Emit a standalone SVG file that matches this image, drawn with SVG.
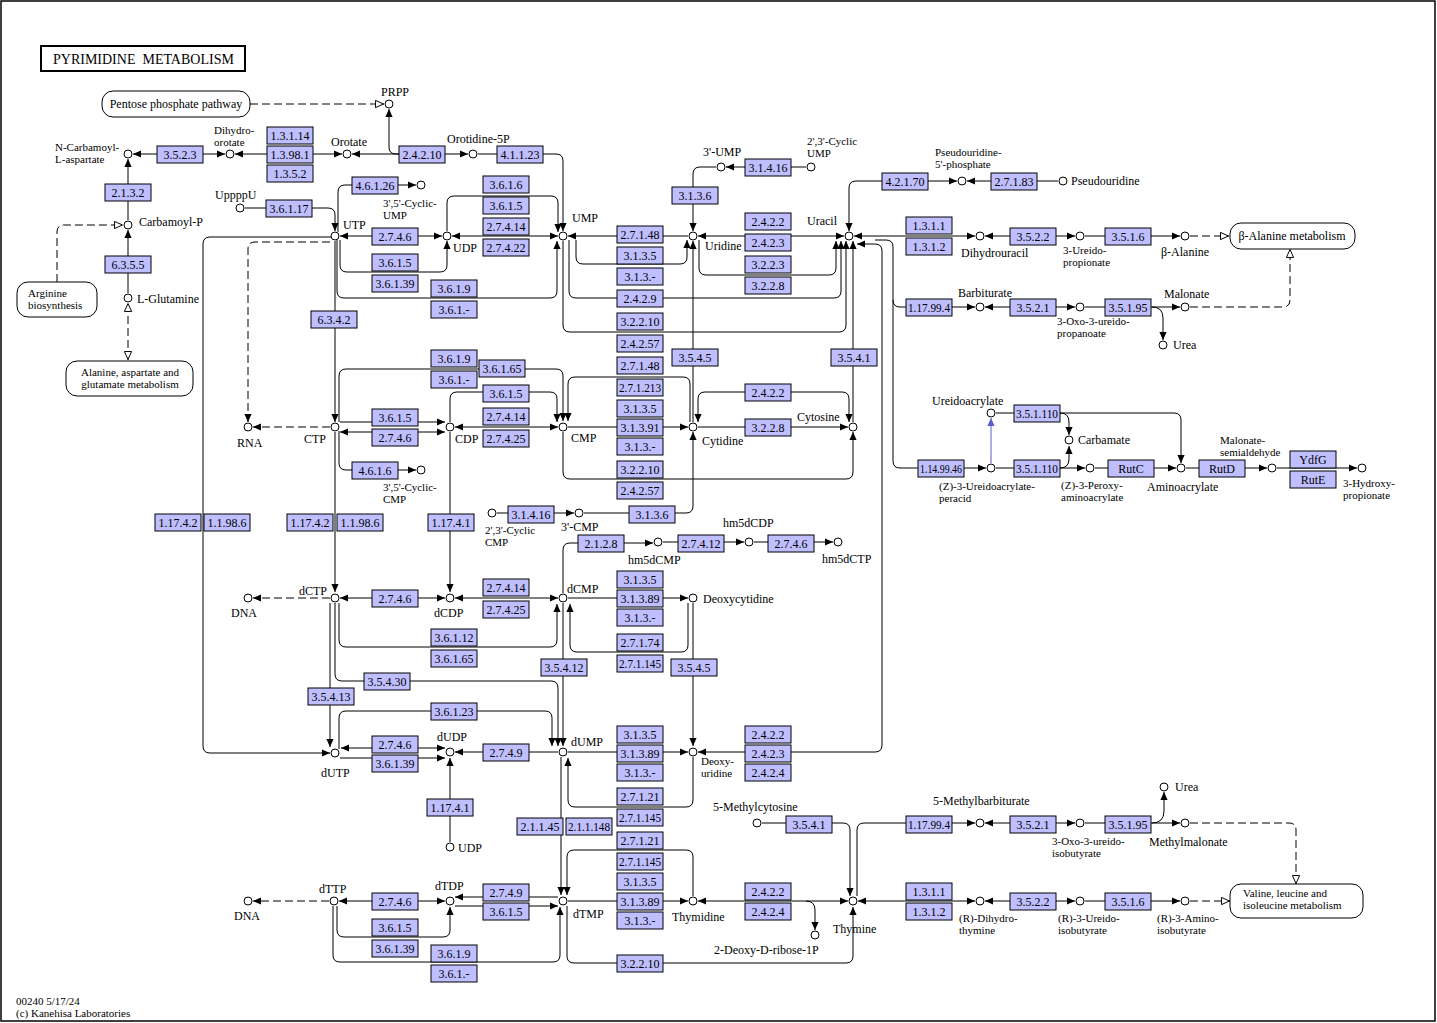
<svg xmlns="http://www.w3.org/2000/svg" width="1437" height="1023" viewBox="0 0 1437 1023">
<style>
.l{fill:none;stroke:#000;stroke-width:1}
.d{stroke-dasharray:8 4}
.ae{marker-end:url(#ah)}
.as{marker-start:url(#ah)}
.oe{marker-end:url(#oh)}
.os{marker-start:url(#oh)}
.b{stroke:#5a5ad2;marker-end:url(#bh)}
.e rect{fill:#bfbfff;stroke:#000;stroke-width:1}
.e text{font-family:"Liberation Serif",serif;font-size:12px;text-anchor:middle;fill:#000}
.c circle{fill:#fff;stroke:#000;stroke-width:1}
text{font-family:"Liberation Serif",serif;font-size:12px;fill:#000}
text.t2{font-size:11px}
text.ttl{font-size:14px}
.m rect{fill:#fff;stroke:#000;stroke-width:1}
.mc{text-anchor:middle}
</style>
<defs>
<marker id="ah" viewBox="0 0 10 10" refX="10" refY="5" markerWidth="8" markerHeight="8" markerUnits="userSpaceOnUse" orient="auto-start-reverse"><path d="M0,0.5L10,5L0,9.5z" fill="#000"/></marker>
<marker id="bh" viewBox="0 0 10 10" refX="10" refY="5" markerWidth="8" markerHeight="8" markerUnits="userSpaceOnUse" orient="auto-start-reverse"><path d="M0,0.5L10,5L0,9.5z" fill="#5a5ad2"/></marker>
<marker id="oh" viewBox="0 0 10 10" refX="10" refY="5" markerWidth="9" markerHeight="9" markerUnits="userSpaceOnUse" orient="auto-start-reverse"><path d="M0.6,1L9.4,5L0.6,9z" fill="#fff" stroke="#000" stroke-width="1.1"/></marker>
</defs>
<rect x="0" y="0" width="1437" height="1023" fill="#fff"/>
<rect x="1" y="1" width="1434" height="1020" fill="none" stroke="#000" stroke-width="1.5"/>
<g id="title"><rect x="41" y="46" width="204" height="25" fill="#fff" stroke="#000" stroke-width="2"/><text class="ttl" x="53" y="63.5" xml:space="preserve">PYRIMIDINE  METABOLISM</text></g>

<g id="connectors">
<path class="l ae" d="M128,220L128,159"/>
<path class="l ae" d="M128,293L128,230"/>
<path class="l d oe os" d="M128,360L128,303"/>
<path class="l d oe" d="M57,282L57,232Q57,225 64,225L123,225"/>
<path class="l d oe" d="M250,104L384,104"/>
<path class="l ae as" d="M225,154L133,154"/>
<path class="l ae as" d="M342,154L235,154"/>
<path class="l ae as" d="M352,154L468,154"/>
<path class="l ae" d="M399,154L396,154Q389,154 389,147L389,109"/>
<path class="l ae" d="M478,154L556,154Q563,154 563,161L563,231"/>
<path class="l ae" d="M447,231L447,203Q447,196 454,196L551,196Q558,196 558,203L558,232"/>
<path class="l ae as" d="M452,236L558,236"/>
<path class="l ae as" d="M340,236L442,236"/>
<path class="l ae" d="M340,240L340,265Q340,272 347,272L440,272Q447,272 447,265L447,241"/>
<path class="l ae" d="M337,240L337,291Q337,298 344,298L550,298Q557,298 557,291L557,241"/>
<path class="l ae" d="M245,208L328,208Q335,208 335,215L335,231"/>
<path class="l ae" d="M338,232L338,192Q338,185 345,185L416,185"/>
<path class="l d ae" d="M330,242L255,242Q248,242 248,249L248,422"/>
<path class="l ae" d="M335,241L335,422"/>
<path class="l ae" d="M331,237L210,237Q203,237 203,244L203,746Q203,753 210,753L330,753"/>
<path class="l ae" d="M688,236L568,236"/>
<path class="l ae" d="M576,240L576,257Q576,264 583,264L680,264Q687,264 687,257L687,240"/>
<path class="l ae" d="M569,240L569,291Q569,298 576,298L834,298Q841,298 841,291L841,241"/>
<path class="l ae" d="M563,241L563,325Q563,332 570,332L839,332Q846,332 846,325L846,241"/>
<path class="l ae as" d="M698,236L844,236"/>
<path class="l ae" d="M699,240L699,268Q699,275 706,275L829,275Q836,275 836,268L836,241"/>
<path class="l ae" d="M806,167L726,167"/>
<path class="l ae" d="M716,167L700,167Q693,167 693,174L693,231"/>
<path class="l ae as" d="M957,181L856,181Q849,181 849,188L849,231"/>
<path class="l ae" d="M1058,181L967,181"/>
<path class="l ae as" d="M854,236L975,236"/>
<path class="l ae as" d="M1075,236L985,236"/>
<path class="l ae" d="M1085,236L1180,236"/>
<path class="l d oe" d="M1190,236L1229,236"/>
<path class="l ae as" d="M698,752L875,752Q882,752 882,745L882,251Q882,244 875,244L857,244"/>
<path class="l ae" d="M875,240L886,240Q893,240 893,247L893,461Q893,468 900,468L986,468"/>
<path class="l ae" d="M893,300Q893,307 900,307L975,307"/>
<path class="l ae as" d="M1075,307L985,307"/>
<path class="l ae" d="M1085,307L1180,307"/>
<path class="l ae" d="M1152,307Q1163,307 1163,318L1163,340"/>
<path class="l d oe" d="M1190,307L1283,307Q1290,307 1290,300L1290,249"/>
<path class="l ae" d="M693,422L693,241"/>
<path class="l ae as" d="M698,422L698,399Q698,392 705,392L842,392Q849,392 849,399L849,422"/>
<path class="l ae" d="M698,427L848,427"/>
<path class="l ae" d="M853,422L853,241"/>
<path class="l ae" d="M563,432L563,472Q563,479 570,479L846,479Q853,479 853,472L853,432"/>
<path class="l ae" d="M584,513L686,513Q693,513 693,506L693,432"/>
<path class="l ae" d="M497,513L574,513"/>
<path class="l ae" d="M568,427L688,427"/>
<path class="l ae" d="M690,422L690,384Q690,377 683,377L575,377Q568,377 568,384L568,421"/>
<path class="l ae" d="M339,422L339,376Q339,369 346,369L556,369Q563,369 563,376L563,421"/>
<path class="l ae" d="M450,422L450,399Q450,392 457,392L550,392Q557,392 557,399L557,422"/>
<path class="l ae as" d="M455,427L558,427"/>
<path class="l ae" d="M340,422L445,422"/>
<path class="l ae as" d="M340,432L445,432"/>
<path class="l d ae" d="M330,427L253,427"/>
<path class="l ae" d="M339,431L339,463Q339,470 346,470L416,470"/>
<path class="l ae" d="M335,432L335,592"/>
<path class="l ae" d="M450,432L450,592"/>
<path class="l ae as" d="M340,598L445,598"/>
<path class="l d ae" d="M330,598L253,598"/>
<path class="l ae as" d="M455,598L558,598"/>
<path class="l ae" d="M339,603L339,640Q339,647 346,647L550,647Q557,647 557,640L557,604"/>
<path class="l ae" d="M335,603L335,674Q335,681 342,681L551,681Q558,681 558,688L558,746"/>
<path class="l ae" d="M330,603L330,747"/>
<path class="l ae" d="M563,603L563,746"/>
<path class="l ae" d="M568,598L688,598"/>
<path class="l ae" d="M688,603L688,645Q688,652 681,652L577,652Q570,652 570,645L570,604"/>
<path class="l ae" d="M693,603L693,746"/>
<path class="l ae" d="M563,593L563,550Q563,543 570,543L653,543"/>
<path class="l ae" d="M663,542L744,542"/>
<path class="l ae" d="M754,542L833,542"/>
<path class="l ae as" d="M341,748L445,748"/>
<path class="l ae" d="M340,758L445,758"/>
<path class="l ae" d="M339,749L339,718Q339,711 346,711L545,711Q552,711 552,718L552,746"/>
<path class="l ae" d="M558,752L455,752"/>
<path class="l ae" d="M450,842L450,758"/>
<path class="l ae" d="M568,752L688,752"/>
<path class="l ae" d="M693,757L693,800Q693,807 686,807L575,807Q568,807 568,800L568,758"/>
<path class="l ae" d="M561,757L561,895"/>
<path class="l ae" d="M693,896L693,857Q693,850 686,850L574,850Q567,850 567,857L567,895"/>
<path class="l ae" d="M568,901L688,901"/>
<path class="l ae" d="M567,906L567,956Q567,963 574,963L846,963Q853,963 853,956L853,907"/>
<path class="l ae as" d="M339,901L445,901"/>
<path class="l d ae" d="M329,901L253,901"/>
<path class="l ae" d="M558,897L455,897"/>
<path class="l ae" d="M455,906L558,906"/>
<path class="l ae" d="M337,906L337,930Q337,937 344,937L443,937Q450,937 450,930L450,907"/>
<path class="l ae" d="M333,906L333,955Q333,962 340,962L553,962Q560,962 560,955L560,907"/>
<path class="l ae as" d="M698,901L848,901"/>
<path class="l ae" d="M806,901Q815,901 815,910L815,930"/>
<path class="l ae" d="M762,823L843,823Q850,823 850,830L850,896"/>
<path class="l ae" d="M857,896L857,830Q857,823 864,823L975,823"/>
<path class="l ae as" d="M1075,823L985,823"/>
<path class="l ae" d="M1085,823L1180,823"/>
<path class="l ae" d="M1152,823Q1164,823 1164,811L1164,792"/>
<path class="l d oe" d="M1190,823L1289,823Q1296,823 1296,830L1296,884"/>
<path class="l ae as" d="M858,901L975,901"/>
<path class="l ae as" d="M1075,901L985,901"/>
<path class="l ae" d="M1085,901L1180,901"/>
<path class="l d oe" d="M1190,901L1230,901"/>
<path class="l b" d="M991,463L991,418"/>
<path class="l ae" d="M996,468L1085,468"/>
<path class="l ae" d="M1060,468Q1069,468 1069,459L1069,446"/>
<path class="l ae" d="M996,413L1174,413Q1181,413 1181,420L1181,463"/>
<path class="l ae" d="M1060,413Q1069,413 1069,422L1069,435"/>
<path class="l ae" d="M1095,468L1176,468"/>
<path class="l ae" d="M1186,468L1267,468"/>
<path class="l ae" d="M1277,468L1357,468"/>
</g>

<g id="maps" class="m">
<g id="m-ppp"><rect x="102" y="91" width="148" height="26" rx="11"/><text class="mc" x="176" y="108">Pentose phosphate pathway</text></g>
<g id="m-arg"><rect x="17" y="282" width="80" height="35" rx="11"/><text class="t2" x="28" y="297">Arginine<tspan x="28" dy="12.2">biosynthesis</tspan></text></g>
<g id="m-ala"><rect x="66" y="361" width="127" height="35" rx="11"/><text class="mc t2" x="130" y="376">Alanine, aspartate and<tspan x="130" dy="12.2">glutamate metabolism</tspan></text></g>
<g id="m-bala"><rect x="1230" y="223" width="125" height="26" rx="11"/><text class="mc" x="1292" y="240">β-Alanine metabolism</text></g>
<g id="m-val"><rect x="1230" y="884" width="133" height="34" rx="11"/><text class="t2" x="1243" y="897">Valine, leucine and<tspan x="1243" dy="12.2">isoleucine metabolism</tspan></text></g>
</g>

<g id="enzymes" class="e">
<g id="e001"><rect x="157" y="146" width="46" height="17"/><text x="180" y="159">3.5.2.3</text></g>
<g id="e002"><rect x="267" y="127" width="46" height="17"/><text x="290" y="140">1.3.1.14</text></g>
<g id="e003"><rect x="267" y="146" width="46" height="17"/><text x="290" y="159">1.3.98.1</text></g>
<g id="e004"><rect x="267" y="165" width="46" height="17"/><text x="290" y="178">1.3.5.2</text></g>
<g id="e005"><rect x="399" y="146" width="46" height="17"/><text x="422" y="159">2.4.2.10</text></g>
<g id="e006"><rect x="497" y="146" width="46" height="17"/><text x="520" y="159">4.1.1.23</text></g>
<g id="e007"><rect x="105" y="184" width="46" height="17"/><text x="128" y="197">2.1.3.2</text></g>
<g id="e008"><rect x="105" y="256" width="46" height="17"/><text x="128" y="269">6.3.5.5</text></g>
<g id="e009"><rect x="352" y="177" width="46" height="17"/><text x="375" y="190">4.6.1.26</text></g>
<g id="e010"><rect x="266" y="200" width="46" height="17"/><text x="289" y="213">3.6.1.17</text></g>
<g id="e011"><rect x="372" y="228" width="46" height="17"/><text x="395" y="241">2.7.4.6</text></g>
<g id="e012"><rect x="372" y="254" width="46" height="17"/><text x="395" y="267">3.6.1.5</text></g>
<g id="e013"><rect x="372" y="275" width="46" height="17"/><text x="395" y="288">3.6.1.39</text></g>
<g id="e014"><rect x="431" y="280" width="46" height="17"/><text x="454" y="293">3.6.1.9</text></g>
<g id="e015"><rect x="431" y="301" width="46" height="17"/><text x="454" y="314">3.6.1.-</text></g>
<g id="e016"><rect x="311" y="311" width="46" height="17"/><text x="334" y="324">6.3.4.2</text></g>
<g id="e017"><rect x="483" y="176" width="46" height="17"/><text x="506" y="189">3.6.1.6</text></g>
<g id="e018"><rect x="483" y="197" width="46" height="17"/><text x="506" y="210">3.6.1.5</text></g>
<g id="e019"><rect x="483" y="218" width="46" height="17"/><text x="506" y="231">2.7.4.14</text></g>
<g id="e020"><rect x="483" y="239" width="46" height="17"/><text x="506" y="252">2.7.4.22</text></g>
<g id="e021"><rect x="617" y="226" width="46" height="17"/><text x="640" y="239">2.7.1.48</text></g>
<g id="e022"><rect x="617" y="247" width="46" height="17"/><text x="640" y="260">3.1.3.5</text></g>
<g id="e023"><rect x="617" y="268" width="46" height="17"/><text x="640" y="281">3.1.3.-</text></g>
<g id="e024"><rect x="617" y="290" width="46" height="17"/><text x="640" y="303">2.4.2.9</text></g>
<g id="e025"><rect x="617" y="313" width="46" height="17"/><text x="640" y="326">3.2.2.10</text></g>
<g id="e026"><rect x="617" y="335" width="46" height="17"/><text x="640" y="348">2.4.2.57</text></g>
<g id="e027"><rect x="617" y="357" width="46" height="17"/><text x="640" y="370">2.7.1.48</text></g>
<g id="e028"><rect x="617" y="379" width="46" height="17"/><text x="640" y="392" textLength="42" lengthAdjust="spacingAndGlyphs">2.7.1.213</text></g>
<g id="e029"><rect x="617" y="400" width="46" height="17"/><text x="640" y="413">3.1.3.5</text></g>
<g id="e030"><rect x="617" y="419" width="46" height="17"/><text x="640" y="432">3.1.3.91</text></g>
<g id="e031"><rect x="617" y="438" width="46" height="17"/><text x="640" y="451">3.1.3.-</text></g>
<g id="e032"><rect x="617" y="461" width="46" height="17"/><text x="640" y="474">3.2.2.10</text></g>
<g id="e033"><rect x="617" y="482" width="46" height="17"/><text x="640" y="495">2.4.2.57</text></g>
<g id="e034"><rect x="672" y="187" width="46" height="17"/><text x="695" y="200">3.1.3.6</text></g>
<g id="e035"><rect x="745" y="159" width="46" height="17"/><text x="768" y="172">3.1.4.16</text></g>
<g id="e036"><rect x="745" y="213" width="46" height="17"/><text x="768" y="226">2.4.2.2</text></g>
<g id="e037"><rect x="745" y="234" width="46" height="17"/><text x="768" y="247">2.4.2.3</text></g>
<g id="e038"><rect x="745" y="256" width="46" height="17"/><text x="768" y="269">3.2.2.3</text></g>
<g id="e039"><rect x="745" y="277" width="46" height="17"/><text x="768" y="290">3.2.2.8</text></g>
<g id="e040"><rect x="882" y="173" width="46" height="17"/><text x="905" y="186">4.2.1.70</text></g>
<g id="e041"><rect x="991" y="173" width="46" height="17"/><text x="1014" y="186">2.7.1.83</text></g>
<g id="e042"><rect x="906" y="217" width="46" height="17"/><text x="929" y="230">1.3.1.1</text></g>
<g id="e043"><rect x="906" y="238" width="46" height="17"/><text x="929" y="251">1.3.1.2</text></g>
<g id="e044"><rect x="1010" y="228" width="46" height="17"/><text x="1033" y="241">3.5.2.2</text></g>
<g id="e045"><rect x="1105" y="228" width="46" height="17"/><text x="1128" y="241">3.5.1.6</text></g>
<g id="e046"><rect x="906" y="299" width="46" height="17"/><text x="929" y="312" textLength="42" lengthAdjust="spacingAndGlyphs">1.17.99.4</text></g>
<g id="e047"><rect x="1010" y="299" width="46" height="17"/><text x="1033" y="312">3.5.2.1</text></g>
<g id="e048"><rect x="1105" y="299" width="46" height="17"/><text x="1128" y="312">3.5.1.95</text></g>
<g id="e049"><rect x="672" y="349" width="46" height="17"/><text x="695" y="362">3.5.4.5</text></g>
<g id="e050"><rect x="831" y="349" width="46" height="17"/><text x="854" y="362">3.5.4.1</text></g>
<g id="e051"><rect x="745" y="384" width="46" height="17"/><text x="768" y="397">2.4.2.2</text></g>
<g id="e052"><rect x="745" y="419" width="46" height="17"/><text x="768" y="432">3.2.2.8</text></g>
<g id="e053"><rect x="1014" y="405" width="46" height="17"/><text x="1037" y="418" textLength="42" lengthAdjust="spacingAndGlyphs">3.5.1.110</text></g>
<g id="e054"><rect x="918" y="460" width="46" height="17"/><text x="941" y="473" textLength="42" lengthAdjust="spacingAndGlyphs">1.14.99.46</text></g>
<g id="e055"><rect x="1014" y="460" width="46" height="17"/><text x="1037" y="473" textLength="42" lengthAdjust="spacingAndGlyphs">3.5.1.110</text></g>
<g id="e056"><rect x="1108" y="460" width="46" height="17"/><text x="1131" y="473">RutC</text></g>
<g id="e057"><rect x="1199" y="460" width="46" height="17"/><text x="1222" y="473">RutD</text></g>
<g id="e058"><rect x="1290" y="451" width="46" height="17"/><text x="1313" y="464">YdfG</text></g>
<g id="e059"><rect x="1290" y="471" width="46" height="17"/><text x="1313" y="484">RutE</text></g>
<g id="e060"><rect x="431" y="350" width="46" height="17"/><text x="454" y="363">3.6.1.9</text></g>
<g id="e061"><rect x="431" y="371" width="46" height="17"/><text x="454" y="384">3.6.1.-</text></g>
<g id="e062"><rect x="479" y="360" width="46" height="17"/><text x="502" y="373">3.6.1.65</text></g>
<g id="e063"><rect x="483" y="385" width="46" height="17"/><text x="506" y="398">3.6.1.5</text></g>
<g id="e064"><rect x="372" y="409" width="46" height="17"/><text x="395" y="422">3.6.1.5</text></g>
<g id="e065"><rect x="372" y="429" width="46" height="17"/><text x="395" y="442">2.7.4.6</text></g>
<g id="e066"><rect x="483" y="408" width="46" height="17"/><text x="506" y="421">2.7.4.14</text></g>
<g id="e067"><rect x="483" y="430" width="46" height="17"/><text x="506" y="443">2.7.4.25</text></g>
<g id="e068"><rect x="352" y="462" width="46" height="17"/><text x="375" y="475">4.6.1.6</text></g>
<g id="e069"><rect x="508" y="506" width="46" height="17"/><text x="531" y="519">3.1.4.16</text></g>
<g id="e070"><rect x="629" y="506" width="46" height="17"/><text x="652" y="519">3.1.3.6</text></g>
<g id="e071"><rect x="578" y="535" width="46" height="17"/><text x="601" y="548">2.1.2.8</text></g>
<g id="e072"><rect x="678" y="535" width="46" height="17"/><text x="701" y="548">2.7.4.12</text></g>
<g id="e073"><rect x="768" y="535" width="46" height="17"/><text x="791" y="548">2.7.4.6</text></g>
<g id="e074"><rect x="155" y="514" width="46" height="17"/><text x="178" y="527">1.17.4.2</text></g>
<g id="e075"><rect x="204" y="514" width="46" height="17"/><text x="227" y="527">1.1.98.6</text></g>
<g id="e076"><rect x="287" y="514" width="46" height="17"/><text x="310" y="527">1.17.4.2</text></g>
<g id="e077"><rect x="337" y="514" width="46" height="17"/><text x="360" y="527">1.1.98.6</text></g>
<g id="e078"><rect x="428" y="514" width="46" height="17"/><text x="451" y="527">1.17.4.1</text></g>
<g id="e079"><rect x="372" y="590" width="46" height="17"/><text x="395" y="603">2.7.4.6</text></g>
<g id="e080"><rect x="483" y="579" width="46" height="17"/><text x="506" y="592">2.7.4.14</text></g>
<g id="e081"><rect x="483" y="601" width="46" height="17"/><text x="506" y="614">2.7.4.25</text></g>
<g id="e082"><rect x="617" y="571" width="46" height="17"/><text x="640" y="584">3.1.3.5</text></g>
<g id="e083"><rect x="617" y="590" width="46" height="17"/><text x="640" y="603">3.1.3.89</text></g>
<g id="e084"><rect x="617" y="609" width="46" height="17"/><text x="640" y="622">3.1.3.-</text></g>
<g id="e085"><rect x="431" y="629" width="46" height="17"/><text x="454" y="642">3.6.1.12</text></g>
<g id="e086"><rect x="431" y="650" width="46" height="17"/><text x="454" y="663">3.6.1.65</text></g>
<g id="e087"><rect x="617" y="634" width="46" height="17"/><text x="640" y="647">2.7.1.74</text></g>
<g id="e088"><rect x="617" y="655" width="46" height="17"/><text x="640" y="668" textLength="42" lengthAdjust="spacingAndGlyphs">2.7.1.145</text></g>
<g id="e089"><rect x="541" y="659" width="46" height="17"/><text x="564" y="672">3.5.4.12</text></g>
<g id="e090"><rect x="671" y="659" width="46" height="17"/><text x="694" y="672">3.5.4.5</text></g>
<g id="e091"><rect x="364" y="673" width="46" height="17"/><text x="387" y="686">3.5.4.30</text></g>
<g id="e092"><rect x="308" y="688" width="46" height="17"/><text x="331" y="701">3.5.4.13</text></g>
<g id="e093"><rect x="431" y="703" width="46" height="17"/><text x="454" y="716">3.6.1.23</text></g>
<g id="e094"><rect x="372" y="736" width="46" height="17"/><text x="395" y="749">2.7.4.6</text></g>
<g id="e095"><rect x="372" y="755" width="46" height="17"/><text x="395" y="768">3.6.1.39</text></g>
<g id="e096"><rect x="483" y="744" width="46" height="17"/><text x="506" y="757">2.7.4.9</text></g>
<g id="e097"><rect x="617" y="726" width="46" height="17"/><text x="640" y="739">3.1.3.5</text></g>
<g id="e098"><rect x="617" y="745" width="46" height="17"/><text x="640" y="758">3.1.3.89</text></g>
<g id="e099"><rect x="617" y="764" width="46" height="17"/><text x="640" y="777">3.1.3.-</text></g>
<g id="e100"><rect x="745" y="726" width="46" height="17"/><text x="768" y="739">2.4.2.2</text></g>
<g id="e101"><rect x="745" y="745" width="46" height="17"/><text x="768" y="758">2.4.2.3</text></g>
<g id="e102"><rect x="745" y="764" width="46" height="17"/><text x="768" y="777">2.4.2.4</text></g>
<g id="e103"><rect x="617" y="788" width="46" height="17"/><text x="640" y="801">2.7.1.21</text></g>
<g id="e104"><rect x="617" y="809" width="46" height="17"/><text x="640" y="822" textLength="42" lengthAdjust="spacingAndGlyphs">2.7.1.145</text></g>
<g id="e105"><rect x="427" y="799" width="46" height="17"/><text x="450" y="812">1.17.4.1</text></g>
<g id="e106"><rect x="517" y="818" width="46" height="17"/><text x="540" y="831">2.1.1.45</text></g>
<g id="e107"><rect x="566" y="818" width="46" height="17"/><text x="589" y="831" textLength="42" lengthAdjust="spacingAndGlyphs">2.1.1.148</text></g>
<g id="e108"><rect x="617" y="832" width="46" height="17"/><text x="640" y="845">2.7.1.21</text></g>
<g id="e109"><rect x="617" y="853" width="46" height="17"/><text x="640" y="866" textLength="42" lengthAdjust="spacingAndGlyphs">2.7.1.145</text></g>
<g id="e110"><rect x="617" y="873" width="46" height="17"/><text x="640" y="886">3.1.3.5</text></g>
<g id="e111"><rect x="617" y="893" width="46" height="17"/><text x="640" y="906">3.1.3.89</text></g>
<g id="e112"><rect x="617" y="912" width="46" height="17"/><text x="640" y="925">3.1.3.-</text></g>
<g id="e113"><rect x="786" y="816" width="46" height="17"/><text x="809" y="829">3.5.4.1</text></g>
<g id="e114"><rect x="906" y="816" width="46" height="17"/><text x="929" y="829" textLength="42" lengthAdjust="spacingAndGlyphs">1.17.99.4</text></g>
<g id="e115"><rect x="1010" y="816" width="46" height="17"/><text x="1033" y="829">3.5.2.1</text></g>
<g id="e116"><rect x="1105" y="816" width="46" height="17"/><text x="1128" y="829">3.5.1.95</text></g>
<g id="e117"><rect x="745" y="883" width="46" height="17"/><text x="768" y="896">2.4.2.2</text></g>
<g id="e118"><rect x="745" y="903" width="46" height="17"/><text x="768" y="916">2.4.2.4</text></g>
<g id="e119"><rect x="906" y="883" width="46" height="17"/><text x="929" y="896">1.3.1.1</text></g>
<g id="e120"><rect x="906" y="903" width="46" height="17"/><text x="929" y="916">1.3.1.2</text></g>
<g id="e121"><rect x="1010" y="893" width="46" height="17"/><text x="1033" y="906">3.5.2.2</text></g>
<g id="e122"><rect x="1105" y="893" width="46" height="17"/><text x="1128" y="906">3.5.1.6</text></g>
<g id="e123"><rect x="372" y="893" width="46" height="17"/><text x="395" y="906">2.7.4.6</text></g>
<g id="e124"><rect x="483" y="884" width="46" height="17"/><text x="506" y="897">2.7.4.9</text></g>
<g id="e125"><rect x="483" y="903" width="46" height="17"/><text x="506" y="916">3.6.1.5</text></g>
<g id="e126"><rect x="372" y="919" width="46" height="17"/><text x="395" y="932">3.6.1.5</text></g>
<g id="e127"><rect x="372" y="940" width="46" height="17"/><text x="395" y="953">3.6.1.39</text></g>
<g id="e128"><rect x="431" y="945" width="46" height="17"/><text x="454" y="958">3.6.1.9</text></g>
<g id="e129"><rect x="431" y="965" width="46" height="17"/><text x="454" y="978">3.6.1.-</text></g>
<g id="e130"><rect x="617" y="955" width="46" height="17"/><text x="640" y="968">3.2.2.10</text></g>
</g>

<g id="compounds" class="c">
<g id="c-prpp"><circle cx="389" cy="104" r="4"/><text x="381" y="96">PRPP</text></g>
<g id="c-nca"><circle cx="128" cy="154" r="4"/><text class="t2" x="55" y="151">N-Carbamoyl-<tspan x="55" dy="12.2">L-aspartate</tspan></text></g>
<g id="c-dho"><circle cx="230" cy="154" r="4"/><text class="t2" x="214" y="134">Dihydro-<tspan x="214" dy="12.2">orotate</tspan></text></g>
<g id="c-oro"><circle cx="347" cy="154" r="4"/><text x="331" y="146">Orotate</text></g>
<g id="c-omp"><circle cx="473" cy="154" r="4"/><text x="447" y="143">Orotidine-5P</text></g>
<g id="c-up4u"><circle cx="240" cy="208" r="4"/><text x="215" y="199">UppppU</text></g>
<g id="c-cp"><circle cx="128" cy="225" r="4"/><text x="139" y="226">Carbamoyl-P</text></g>
<g id="c-gln"><circle cx="128" cy="298" r="4"/><text x="137" y="303">L-Glutamine</text></g>
<g id="c-utp"><circle cx="335" cy="236" r="4"/><text x="343" y="229">UTP</text></g>
<g id="c-udp"><circle cx="447" cy="236" r="4"/><text x="453" y="252">UDP</text></g>
<g id="c-cump"><circle cx="421" cy="185" r="4"/><text class="t2" x="383" y="207">3',5'-Cyclic-<tspan x="383" dy="12.2">UMP</tspan></text></g>
<g id="c-ump"><circle cx="563" cy="236" r="4"/><text x="572" y="222">UMP</text></g>
<g id="c-urd"><circle cx="693" cy="236" r="4"/><text x="705" y="250">Uridine</text></g>
<g id="c-3ump"><circle cx="721" cy="167" r="4"/><text x="703" y="156">3'-UMP</text></g>
<g id="c-23cump"><circle cx="811" cy="167" r="4"/><text class="t2" x="807" y="145">2',3'-Cyclic<tspan x="807" dy="12.2">UMP</tspan></text></g>
<g id="c-ura"><circle cx="849" cy="236" r="4"/><text x="807" y="225">Uracil</text></g>
<g id="c-psi5p"><circle cx="962" cy="181" r="4"/><text class="t2" x="935" y="156">Pseudouridine-<tspan x="935" dy="12.2">5'-phosphate</tspan></text></g>
<g id="c-psi"><circle cx="1063" cy="181" r="4"/><text x="1071" y="185">Pseudouridine</text></g>
<g id="c-dhu"><circle cx="980" cy="236" r="4"/><text x="961" y="257">Dihydrouracil</text></g>
<g id="c-3up"><circle cx="1080" cy="236" r="4"/><text class="t2" x="1063" y="254">3-Ureido-<tspan x="1063" dy="12.2">propionate</tspan></text></g>
<g id="c-bala"><circle cx="1185" cy="236" r="4"/><text x="1161" y="256">β-Alanine</text></g>
<g id="c-barb"><circle cx="980" cy="307" r="4"/><text x="958" y="297">Barbiturate</text></g>
<g id="c-3oup"><circle cx="1080" cy="307" r="4"/><text class="t2" x="1057" y="325">3-Oxo-3-ureido-<tspan x="1057" dy="12.2">propanoate</tspan></text></g>
<g id="c-mal"><circle cx="1185" cy="307" r="4"/><text x="1164" y="298">Malonate</text></g>
<g id="c-urea1"><circle cx="1163" cy="345" r="4"/><text x="1173" y="349">Urea</text></g>
<g id="c-rna"><circle cx="248" cy="427" r="4"/><text x="237" y="447">RNA</text></g>
<g id="c-ctp"><circle cx="335" cy="427" r="4"/><text x="304" y="443">CTP</text></g>
<g id="c-cdp"><circle cx="450" cy="427" r="4"/><text x="455" y="443">CDP</text></g>
<g id="c-cmp"><circle cx="563" cy="427" r="4"/><text x="571" y="442">CMP</text></g>
<g id="c-cyd"><circle cx="693" cy="427" r="4"/><text x="702" y="445">Cytidine</text></g>
<g id="c-cyt"><circle cx="853" cy="427" r="4"/><text x="797" y="421">Cytosine</text></g>
<g id="c-ccmp"><circle cx="421" cy="470" r="4"/><text class="t2" x="383" y="491">3',5'-Cyclic-<tspan x="383" dy="12.2">CMP</tspan></text></g>
<g id="c-23ccmp"><circle cx="492" cy="513" r="4"/><text class="t2" x="485" y="534">2',3'-Cyclic<tspan x="485" dy="12.2">CMP</tspan></text></g>
<g id="c-3cmp"><circle cx="579" cy="513" r="4"/><text x="561" y="531">3'-CMP</text></g>
<g id="c-hm5dcmp"><circle cx="658" cy="542" r="4"/><text x="628" y="564">hm5dCMP</text></g>
<g id="c-hm5dcdp"><circle cx="749" cy="542" r="4"/><text x="723" y="527">hm5dCDP</text></g>
<g id="c-hm5dctp"><circle cx="838" cy="542" r="4"/><text x="822" y="563">hm5dCTP</text></g>
<g id="c-ua"><circle cx="991" cy="413" r="4"/><text x="932" y="405">Ureidoacrylate</text></g>
<g id="c-carb"><circle cx="1069" cy="440" r="4"/><text x="1078" y="444">Carbamate</text></g>
<g id="c-zuap"><circle cx="991" cy="468" r="4"/><text class="t2" x="939" y="490">(Z)-3-Ureidoacrylate-<tspan x="939" dy="12.2">peracid</tspan></text></g>
<g id="c-zpa"><circle cx="1090" cy="468" r="4"/><text class="t2" x="1061" y="489">(Z)-3-Peroxy-<tspan x="1061" dy="12.2">aminoacrylate</tspan></text></g>
<g id="c-aa"><circle cx="1181" cy="468" r="4"/><text x="1147" y="491">Aminoacrylate</text></g>
<g id="c-msa"><circle cx="1272" cy="468" r="4"/><text class="t2" x="1220" y="444">Malonate-<tspan x="1220" dy="12.2">semialdehyde</tspan></text></g>
<g id="c-3hp"><circle cx="1362" cy="468" r="4"/><text class="t2" x="1343" y="487">3-Hydroxy-<tspan x="1343" dy="12.2">propionate</tspan></text></g>
<g id="c-dctp"><circle cx="335" cy="598" r="4"/><text x="299" y="595">dCTP</text></g>
<g id="c-dna1"><circle cx="248" cy="598" r="4"/><text x="231" y="617">DNA</text></g>
<g id="c-dcdp"><circle cx="450" cy="598" r="4"/><text x="434" y="617">dCDP</text></g>
<g id="c-dcmp"><circle cx="563" cy="598" r="4"/><text x="567" y="593">dCMP</text></g>
<g id="c-dcyd"><circle cx="693" cy="598" r="4"/><text x="703" y="603">Deoxycytidine</text></g>
<g id="c-dutp"><circle cx="335" cy="753" r="4"/><text x="321" y="777">dUTP</text></g>
<g id="c-dudp"><circle cx="450" cy="752" r="4"/><text x="437" y="741">dUDP</text></g>
<g id="c-dump"><circle cx="563" cy="752" r="4"/><text x="571" y="746">dUMP</text></g>
<g id="c-durd"><circle cx="693" cy="752" r="4"/><text class="t2" x="701" y="765">Deoxy-<tspan x="701" dy="12.2">uridine</tspan></text></g>
<g id="c-udp2"><circle cx="450" cy="847" r="4"/><text x="458" y="852">UDP</text></g>
<g id="c-5mc"><circle cx="757" cy="823" r="4"/><text x="713" y="811">5-Methylcytosine</text></g>
<g id="c-dttp"><circle cx="334" cy="901" r="4"/><text x="319" y="893">dTTP</text></g>
<g id="c-dna2"><circle cx="248" cy="901" r="4"/><text x="234" y="920">DNA</text></g>
<g id="c-dtdp"><circle cx="450" cy="901" r="4"/><text x="435" y="890">dTDP</text></g>
<g id="c-dtmp"><circle cx="563" cy="901" r="4"/><text x="573" y="918">dTMP</text></g>
<g id="c-thd"><circle cx="693" cy="901" r="4"/><text x="672" y="921">Thymidine</text></g>
<g id="c-dr1p"><circle cx="815" cy="935" r="4"/><text x="714" y="954">2-Deoxy-D-ribose-1P</text></g>
<g id="c-thy"><circle cx="853" cy="901" r="4"/><text x="833" y="933">Thymine</text></g>
<g id="c-5mb"><circle cx="980" cy="823" r="4"/><text x="933" y="805">5-Methylbarbiturate</text></g>
<g id="c-3ouib"><circle cx="1080" cy="823" r="4"/><text class="t2" x="1052" y="845">3-Oxo-3-ureido-<tspan x="1052" dy="12.2">isobutyrate</tspan></text></g>
<g id="c-mm"><circle cx="1185" cy="823" r="4"/><text x="1149" y="846">Methylmalonate</text></g>
<g id="c-urea2"><circle cx="1164" cy="787" r="4"/><text x="1175" y="791">Urea</text></g>
<g id="c-rdht"><circle cx="980" cy="901" r="4"/><text class="t2" x="959" y="922">(R)-Dihydro-<tspan x="959" dy="12.2">thymine</tspan></text></g>
<g id="c-r3uib"><circle cx="1080" cy="901" r="4"/><text class="t2" x="1058" y="922">(R)-3-Ureido-<tspan x="1058" dy="12.2">isobutyrate</tspan></text></g>
<g id="c-r3aib"><circle cx="1185" cy="901" r="4"/><text class="t2" x="1157" y="922">(R)-3-Amino-<tspan x="1157" dy="12.2">isobutyrate</tspan></text></g>
</g>

<g id="footer"><text class="t2" x="16" y="1005">00240 5/17/24<tspan x="16" dy="12.2">(c) Kanehisa Laboratories</tspan></text></g>
</svg>
